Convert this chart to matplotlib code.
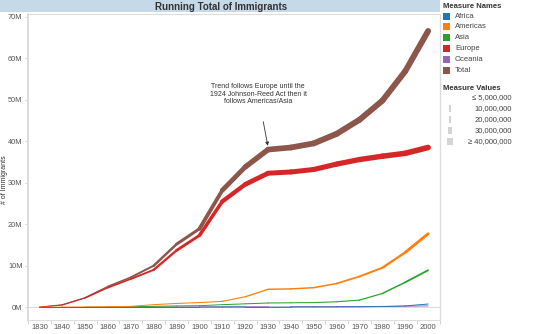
import matplotlib
matplotlib.use("Agg")
import matplotlib.pyplot as plt
from matplotlib.collections import LineCollection
from matplotlib.patches import Rectangle
import numpy as np

plt.rcParams['font.family'] = ['Liberation Sans', 'DejaVu Sans']

# running totals of immigrants by region, in millions
years = list(range(1830, 2001, 10))
africa = [0, 0, 0, 0, 0, 0, 0, 0, 0.01, 0.02, 0.02, 0.03, 0.04, 0.05, 0.08, 0.15, 0.3, 0.75]
americas = [0, 0.02, 0.06, 0.1, 0.2, 0.6, 0.9, 1.1, 1.4, 2.5, 4.3, 4.4, 4.7, 5.7, 7.4, 9.5, 13.2, 17.7]
asia = [0, 0, 0, 0.04, 0.1, 0.2, 0.3, 0.35, 0.6, 0.8, 1.0, 1.05, 1.1, 1.3, 1.7, 3.3, 6.0, 8.9]
europe = [0, 0.5, 2.2, 4.7, 6.8, 9.0, 13.7, 17.3, 25.5, 29.6, 32.3, 32.6, 33.2, 34.5, 35.6, 36.4, 37.1, 38.5]
oceania = [0, 0, 0, 0, 0.01, 0.04, 0.06, 0.07, 0.09, 0.1, 0.11, 0.11, 0.12, 0.13, 0.15, 0.18, 0.22, 0.3]
total = [0, 0.6, 2.3, 5.0, 7.2, 10.0, 15.2, 18.9, 28.2, 33.8, 38.0, 38.5, 39.5, 41.8, 45.2, 49.8, 56.9, 66.6]

measure_names = ["Africa", "Americas", "Asia", "Europe", "Oceania", "Total"]
colors = ["#1f77b4", "#ff7f0e", "#2ca02c", "#d62728", "#9467bd", "#8c564b"]
size_labels = ["\u2264 5,000,000", "10,000,000", "20,000,000", "30,000,000", "\u2265 40,000,000"]
note = "Trend follows Europe until the\n1924 Johnson-Reed Act then it\nfollows Americas/Asia"

W, H = 545, 334
fig = plt.figure(figsize=(W / 100, H / 100), dpi=100)


def fx(px):
    return px / W


def fy(py):
    return 1 - py / H


# title band
fig.patches.append(Rectangle((0, fy(12)), fx(440), 12 / H, transform=fig.transFigure,
                             facecolor="#c6d9e8", edgecolor="none"))
fig.text(fx(221), fy(6.5), "Running Total of Immigrants", ha="center", va="center",
         fontsize=7, fontweight="bold", color="#333333")

ax = fig.add_axes([fx(28), fy(320), fx(440 - 28), (320 - 14) / H])
ax.set_xlim(1825.2, 2005.2)
ax.set_ylim(-3.1, 70.7)

series = [africa, americas, asia, europe, oceania, total]
draw_order = [5, 3, 4, 2, 1, 0]
x = np.array(years, dtype=float)
for i in draw_order:
    v = np.array(series[i], dtype=float)
    pts = np.column_stack([x, v])
    segs = np.stack([pts[:-1], pts[1:]], axis=1)
    mid = (v[:-1] + v[1:]) / 2
    widths_px = 0.9 + 5.0 * np.clip(mid / 40.0, 0, 1)
    lc = LineCollection(segs, linewidths=widths_px * 0.72, colors=colors[i],
                        capstyle="round", joinstyle="round", zorder=3)
    ax.add_collection(lc)

ax.axhline(0, color="#dddddd", lw=0.8, zorder=1)

ax.set_yticks(range(0, 71, 10))
ax.set_yticklabels([f"{t}M" for t in range(0, 71, 10)])
ax.set_xticks(years)
ax.set_xticklabels([str(y) for y in years])
ax.set_xticks(np.arange(1825, 2006, 10), minor=True)
ax.tick_params(axis="x", which="major", length=0, pad=3, labelsize=5.5, labelcolor="#555555")
ax.tick_params(axis="x", which="minor", length=3, color="#cccccc", width=0.6)
ax.tick_params(axis="y", length=2.5, color="#cccccc", width=0.6, pad=1.5,
               labelsize=5.3, labelcolor="#555555")
for side in ["left", "bottom", "top", "right"]:
    ax.spines[side].set_color("#dddddd")
ax.spines["left"].set_linewidth(1.4)
ax.spines["bottom"].set_linewidth(0.8)
ax.spines["top"].set_linewidth(0.8)
ax.spines["right"].set_linewidth(1.0)

fig.text(fx(5), fy(180), "# of Immigrants", rotation=90, ha="center", va="center",
         fontsize=5, color="#333333")

ax.annotate(note, xy=(1930, total[10] + 0.6), xycoords="data",
            xytext=(fx(258), fy(94)), textcoords="figure fraction",
            ha="center", va="center", fontsize=5, color="#333333", linespacing=1.15,
            arrowprops=dict(arrowstyle="-|>", color="#333333", lw=0.6,
                            mutation_scale=5, shrinkA=10, shrinkB=1),
            zorder=5)

# colour legend
fig.text(fx(443), fy(6), "Measure Names", ha="left", va="center", fontsize=5.5,
         fontweight="bold", color="#333333")
for k, (name, c) in enumerate(zip(measure_names, colors)):
    yc = 16 + k * 10.8
    fig.patches.append(Rectangle((fx(443), fy(yc + 3.5)), fx(7), 7 / H,
                                 transform=fig.transFigure, facecolor=c, edgecolor="none"))
    fig.text(fx(455), fy(yc), name, ha="left", va="center", fontsize=5.5, color="#444444")

# size legend
fig.text(fx(443), fy(88), "Measure Values", ha="left", va="center", fontsize=5.5,
         fontweight="bold", color="#333333")
bar_w = [1, 1.6, 2.6, 4.4, 6]
for k, (lab, bw) in enumerate(zip(size_labels, bar_w)):
    yc = 98 + k * 10.9
    fig.patches.append(Rectangle((fx(450 - bw / 2), fy(yc + 3.5)), fx(bw), 7 / H,
                                 transform=fig.transFigure, facecolor="#d4d4d4",
                                 edgecolor="none"))
    fig.text(fx(512), fy(yc), lab, ha="right", va="center", fontsize=5.5, color="#444444")

fig.savefig("out.png", dpi=100)
